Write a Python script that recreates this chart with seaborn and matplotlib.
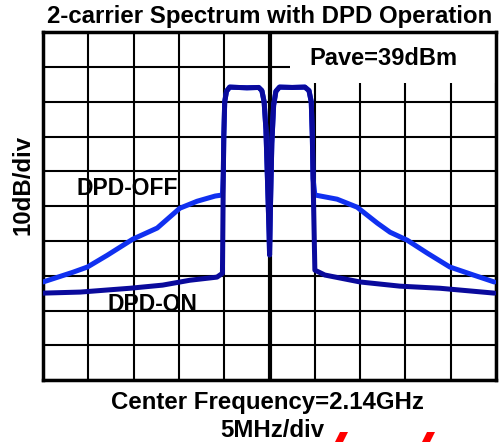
import pandas as pd
import seaborn as sns
import matplotlib
matplotlib.use('Agg')
import matplotlib.pyplot as plt
from matplotlib.patches import Rectangle, Polygon

# Frequency offset from 2.14 GHz (MHz) and level (dB, top of screen = 0).
carrier_freq = [-5.1, -5.05, -4.95, -4.75, -4.4, -2.5, -1.2, -0.85, -0.6, -0.4, -0.2, -0.05, 0.0,
                0.1, 0.25, 0.45, 0.7, 1.1, 2.5, 3.9, 4.35, 4.6, 4.72, 4.8]
carrier_level = [-40.0, -30.0, -20.0, -17.0, -15.8, -16.0, -15.9, -16.8, -20.0, -28.0, -45.0, -58.0, -64.0,
                 -50.0, -32.0, -21.0, -17.0, -15.8, -15.9, -15.8, -16.8, -20.0, -30.0, -42.0]

off_left_freq = [-25.0, -21.7, -20.1, -17.9, -15.1, -12.4, -9.9, -8.0, -6.0, -5.2]
off_left_level = [-71.8, -69.0, -67.5, -64.1, -59.5, -56.3, -50.6, -48.6, -47.1, -46.8]
off_right_freq = [5.0, 7.45, 9.66, 11.9, 13.3, 15.2, 17.4, 19.9, 22.5, 24.8]
off_right_level = [-46.8, -48.0, -50.3, -54.9, -57.5, -59.8, -63.5, -67.5, -69.8, -71.8]

on_left_freq = [-25.0, -20.9, -15.4, -11.8, -8.8, -5.8, -5.2]
on_left_level = [-75.0, -74.7, -73.6, -72.7, -71.3, -70.4, -69.3]
on_right_freq = [5.0, 6.1, 10.0, 14.4, 18.8, 24.8]
on_right_level = [-68.4, -69.8, -71.8, -73.0, -73.6, -75.0]


def trace(name, lf, ll, rf, rl):
    df = pd.DataFrame({'freq': lf + carrier_freq + rf,
                       'level': ll + carrier_level + rl})
    df['trace'] = name
    return df


data = pd.concat([trace('DPD-OFF', off_left_freq, off_left_level, off_right_freq, off_right_level),
                  trace('DPD-ON', on_left_freq, on_left_level, on_right_freq, on_right_level)],
                 ignore_index=True)

sns.set_style('white', rc={'text.color': 'black'})
plt.rcParams['font.family'] = ['Liberation Sans', 'DejaVu Sans']
plt.rcParams['font.weight'] = 'bold'

fig = plt.figure(figsize=(4.99, 4.42), dpi=100)
ax = fig.add_axes([0.0862, 0.140, 0.908, 0.7873])

sns.lineplot(data=data, x='freq', y='level', hue='trace', sort=False, estimator=None,
             palette={'DPD-OFF': '#1030f0', 'DPD-ON': '#0a0a9c'}, linewidth=3.6,
             legend=False, ax=ax, zorder=3)

ax.set_xlim(-25, 25)
ax.set_ylim(-100, 0)
ax.set_xticks(range(-25, 26, 5))
ax.set_yticks(range(-100, 1, 10))
ax.set_xticklabels([])
ax.set_yticklabels([])
ax.tick_params(length=0)
ax.set_axisbelow(True)
ax.grid(True, color='black', linewidth=1.5)
ax.axvline(0, color='black', linewidth=3, zorder=1)
for s in ax.spines.values():
    s.set_linewidth(2.5)
    s.set_color('black')

ax.add_patch(Rectangle((2.3, -14.7), 22.7, 14.7, facecolor='white', edgecolor='none', zorder=2))
ax.text(12.6, -7.5, 'Pave=39dBm', ha='center', va='center', fontsize=17, fontweight='bold',
        color='black', zorder=4)
ax.text(-15.7, -44.8, 'DPD-OFF', ha='center', va='center', fontsize=16.5, fontweight='bold', color='black')
ax.text(-12.9, -78.4, 'DPD-ON', ha='center', va='center', fontsize=16.5, fontweight='bold', color='black')

ax.set_xlabel('')
ax.set_ylabel('')
fig.text(0.541, 0.962, '2-carrier Spectrum with DPD Operation', ha='center', va='center',
         fontsize=17.3, fontweight='bold', color='black')
fig.text(0.046, 0.581, '10dB/div', ha='center', va='center', rotation=90,
         fontsize=17.3, fontweight='bold', color='black')
fig.text(0.535, 0.090, 'Center Frequency=2.14GHz', ha='center', va='center',
         fontsize=17.3, fontweight='bold', color='black')
fig.text(0.545, 0.027, '5MHz/div', ha='center', va='center', fontsize=17.3, fontweight='bold',
         color='black')

# red fragments at the bottom edge
for x0 in (335, 422):
    pts = [(x0 / 499, 0), ((x0 + 8) / 499, 0), ((x0 + 13) / 499, 10 / 442), ((x0 + 5) / 499, 10 / 442)]
    fig.patches.append(Polygon(pts, closed=True, transform=fig.transFigure, facecolor='red',
                               edgecolor='none'))

fig.savefig('out.png', dpi=100)
